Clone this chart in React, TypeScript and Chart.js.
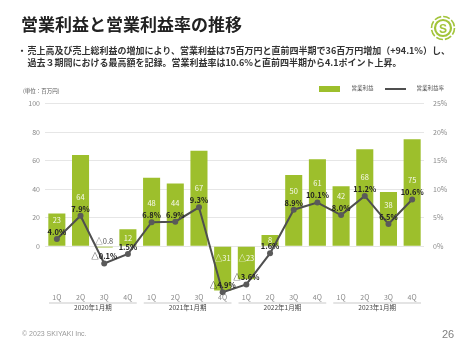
import React, { useEffect, useRef } from "react";
import { Chart, registerables } from "chart.js";

Chart.register(...registerables);

const quarters = ["1Q", "2Q", "3Q", "4Q", "1Q", "2Q", "3Q", "4Q", "1Q", "2Q", "3Q", "4Q", "1Q", "2Q", "3Q", "4Q"];
const fiscalYears = ["2020年1月期", "2021年1月期", "2022年1月期", "2023年1月期"];
const operatingProfit = [23, 64, -0.8, 12, 48, 44, 67, -31, -23, 8, 50, 61, 42, 68, 38, 75];
const operatingMargin = [4.0, 7.9, -0.1, 1.5, 6.8, 6.9, 9.3, -4.9, -3.6, 1.6, 8.9, 10.1, 8.0, 11.2, 6.5, 10.6];
const leftTicks = [0, 20, 40, 60, 80, 100];
const rightTicks = [0, 5, 10, 15, 20, 25];

const BAR = "#9dbf2c";
const LINE = "#4f4f4f";
const JP = "'Noto Sans CJK JP', 'Noto Sans', sans-serif";

const fmtVal = (v: number) => (v < 0 ? "△" + Math.abs(v) : String(v));
const fmtPct = (v: number) => (v < 0 ? "△" + Math.abs(v).toFixed(1) : v.toFixed(1)) + "%";

const labelPlugin = {
  id: "customLabels",
  afterDatasetsDraw(chart: any) {
    const ctx = chart.ctx;
    const x = chart.scales.x;
    const y = chart.scales.y;
    const yl = chart.scales.yLine;
    const zeroY = y.getPixelForValue(0);
    ctx.save();
    ctx.textAlign = "center";
    ctx.textBaseline = "middle";
    operatingProfit.forEach((v, i) => {
      const px = x.getPixelForValue(i);
      const pointY = yl.getPixelForValue(operatingMargin[i]);
      let vy: number;
      let color = "rgba(255,255,255,0.92)";
      if (v < 0 && v > -5) {
        vy = zeroY - 5;
        color = "#555";
      } else if (v < 0) {
        vy = zeroY + 12;
      } else if (v < 15) {
        vy = (zeroY + y.getPixelForValue(v)) / 2;
      } else {
        vy = pointY - 19;
      }
      ctx.font = `7.5px ${JP}`;
      ctx.fillStyle = color;
      ctx.fillText(fmtVal(v), px, vy);
      ctx.font = `bold 7.5px ${JP}`;
      ctx.fillStyle = "#222";
      ctx.fillText(fmtPct(operatingMargin[i]), px, pointY - 7);
    });
    ctx.restore();
  },
  afterDraw(chart: any) {
    const ctx = chart.ctx;
    const x = chart.scales.x;
    const area = chart.chartArea;
    const step = (area.right - area.left) / quarters.length;
    ctx.save();
    ctx.textAlign = "center";
    ctx.textBaseline = "middle";
    ctx.font = `7px ${JP}`;
    ctx.fillStyle = "#8a8a8a";
    quarters.forEach((q, i) => {
      ctx.fillText(q, x.getPixelForValue(i), area.bottom + 5.5);
    });
    fiscalYears.forEach((fy, g) => {
      const x0 = x.getPixelForValue(g * 4) - step / 2 + 4;
      const x1 = x.getPixelForValue(g * 4 + 3) + step / 2 - 3;
      ctx.strokeStyle = "#c9c9c9";
      ctx.lineWidth = 1;
      ctx.beginPath();
      ctx.moveTo(x0, area.bottom + 11);
      ctx.lineTo(x1, area.bottom + 11);
      ctx.stroke();
      ctx.font = `6.5px ${JP}`;
      ctx.fillStyle = "#444";
      ctx.fillText(fy, (x0 + x1) / 2, area.bottom + 16);
    });
    ctx.restore();
  },
};

function ChartCanvas() {
  const ref = useRef<HTMLCanvasElement | null>(null);
  useEffect(() => {
    if (!ref.current) return;
    const chart = new Chart(ref.current, {
      type: "bar",
      data: {
        labels: quarters.map((q, i) => q + "-" + i),
        datasets: [
          {
            type: "line",
            label: "営業利益率",
            data: operatingMargin,
            yAxisID: "yLine",
            borderColor: LINE,
            backgroundColor: LINE,
            borderWidth: 2,
            pointRadius: 3,
            pointBackgroundColor: "#5a5a5a",
            pointBorderWidth: 0,
            tension: 0,
            clip: false as any,
            order: 1,
          } as any,
          {
            type: "bar",
            label: "営業利益",
            data: operatingProfit,
            yAxisID: "y",
            backgroundColor: BAR,
            barPercentage: 0.72,
            categoryPercentage: 1,
            order: 2,
          },
        ],
      },
      options: {
        responsive: false,
        animation: false,
        devicePixelRatio: 1,
        layout: { padding: { top: 103.5, bottom: 63, left: 0, right: 0 } },
        plugins: { legend: { display: false }, tooltip: { enabled: false } },
        scales: {
          x: { display: false, offset: true },
          y: {
            position: "left",
            min: -32,
            max: 100,
            afterBuildTicks: (s: any) => {
              s.ticks = [-32, ...leftTicks].map((v) => ({ value: v }));
            },
            afterFit: (s: any) => {
              s.width = 45;
            },
            border: { display: false },
            grid: {
              drawTicks: false,
              color: (c: any) => (c.tick && c.tick.value < 0 ? "rgba(0,0,0,0)" : "#e6e6e6"),
              lineWidth: 1,
            },
            ticks: {
              padding: 5,
              color: "#8a8a8a",
              font: { size: 7, family: JP },
              callback: (v: any) => (Number(v) < 0 ? "" : String(v)),
            },
          },
          yRight: {
            position: "right",
            min: -8,
            max: 25,
            afterBuildTicks: (s: any) => {
              s.ticks = [-8, ...rightTicks].map((v) => ({ value: v }));
            },
            afterFit: (s: any) => {
              s.width = 50;
            },
            border: { display: false },
            grid: { display: false, drawTicks: false },
            ticks: {
              padding: 9,
              color: "#8a8a8a",
              font: { size: 7, family: JP },
              callback: (v: any) => (Number(v) < 0 ? "" : v + "%"),
            },
          },
          yLine: {
            display: false,
            min: -4.86,
            max: 26.66,
          },
        },
      } as any,
      plugins: [labelPlugin],
    });
    return () => chart.destroy();
  }, []);
  return (
    <canvas
      ref={ref}
      width={474}
      height={355}
      style={{ position: "absolute", left: 0, top: 0, width: 474, height: 355 }}
    />
  );
}

const abs = (l: number, t: number, extra: React.CSSProperties = {}): React.CSSProperties => ({
  position: "absolute",
  left: l,
  top: t,
  whiteSpace: "nowrap",
  lineHeight: 1,
  fontFamily: JP,
  ...extra,
});

export default function App() {
  useEffect(() => {
    document.body.style.margin = "0";
  }, []);
  return (
    <div style={{ position: "fixed", left: 0, top: 0, width: 474, height: 355, background: "#fff", overflow: "hidden" }}>
      <ChartCanvas />
      <div style={abs(21, 14.5, { fontSize: 17, fontWeight: "bold", color: "#222" })}>営業利益と営業利益率の推移</div>
      <svg style={{ position: "absolute", left: 430, top: 15 }} width={26} height={26} viewBox="0 0 26 26">
        <circle cx={13} cy={13} r={11.5} fill="none" stroke="#a2c43a" strokeWidth={1.6} strokeDasharray="7 2" />
        <circle cx={13} cy={13} r={8} fill="none" stroke="#a2c43a" strokeWidth={2.2} />
        <text x={13} y={17.5} textAnchor="middle" fontSize={12} fontWeight="bold" fill="#a2c43a" fontFamily="'Liberation Sans', sans-serif">S</text>
      </svg>
      <div style={abs(17.5, 45.5, { fontSize: 9, fontWeight: "bold", color: "#333" })}>・</div>
      <div style={abs(27.5, 45.5, { fontSize: 9, fontWeight: "bold", color: "#333" })}>
        売上高及び売上総利益の増加により、営業利益は75百万円と直前四半期で36百万円増加（+94.1%）し、
      </div>
      <div style={abs(27.5, 57.5, { fontSize: 9, fontWeight: "bold", color: "#333" })}>
        過去３期間における最高額を記録。営業利益率は10.6%と直前四半期から4.1ポイント上昇。
      </div>
      <div style={abs(23, 89, { fontSize: 5.5, color: "#555" })}>(単位：百万円)</div>
      <div style={{ position: "absolute", left: 319, top: 86, width: 21, height: 6, background: BAR }} />
      <div style={abs(351.5, 86, { fontSize: 5.5, color: "#555" })}>営業利益</div>
      <div style={{ position: "absolute", left: 385, top: 87.5, width: 21, height: 2, background: LINE }} />
      <div style={abs(416.5, 86, { fontSize: 5.5, color: "#555" })}>営業利益率</div>
      <div style={abs(22, 329.5, { fontSize: 7, color: "#9a9a9a", fontFamily: "'Liberation Sans', Arial, sans-serif" })}>© 2023 SKIYAKI Inc.</div>
      <div style={abs(442, 328.5, { fontSize: 11, color: "#808080", fontFamily: "'Liberation Sans', Arial, sans-serif" })}>26</div>
    </div>
  );
}
